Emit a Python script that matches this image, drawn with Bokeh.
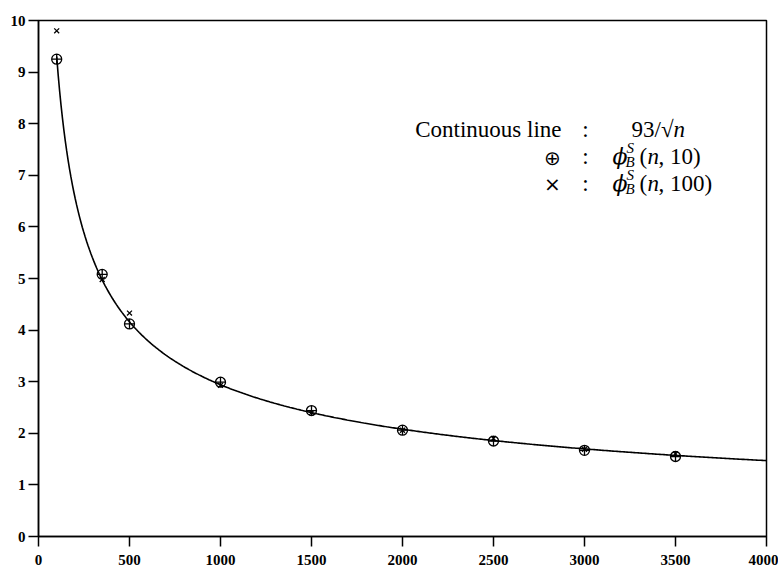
import numpy as np
from bokeh.plotting import figure
from bokeh.models import Label, Range1d
from bokeh.embed import file_html
from bokeh.resources import INLINE

# ---- data ----
n_values = [100, 350, 500, 1000, 1500, 2000, 2500, 3000, 3500]
phi_n10 = [9.25, 5.08, 4.12, 2.99, 2.44, 2.06, 1.85, 1.67, 1.55]
phi_n100 = [9.80, 4.98, 4.33, 2.93, 2.40, 2.06, 1.90, 1.69, 1.60]
curve_coef = 93.0                     # continuous line: 93/sqrt(n)
curve_n = np.linspace(100, 4000, 500)
curve_y = curve_coef / np.sqrt(curve_n)

x_ticks = [0, 500, 1000, 1500, 2000, 2500, 3000, 3500, 4000]
y_ticks = [0, 1, 2, 3, 4, 5, 6, 7, 8, 9, 10]

SERIF = "Liberation Serif"

p = figure(width=778, height=570, output_backend="svg", toolbar_location=None,
           x_range=Range1d(0, 4000), y_range=Range1d(0, 10),
           min_border_left=38, min_border_right=12, min_border_top=20,
           min_border_bottom=34)
p.grid.visible = False
p.background_fill_color = "white"
p.border_fill_color = "white"
p.outline_line_color = "black"
p.outline_line_width = 1.5

for ax in (p.xaxis[0], p.yaxis[0]):
    ax.axis_line_width = 1.5
    ax.major_tick_line_width = 1.5
    ax.minor_tick_line_width = 1.5
    ax.major_tick_in = 0
    ax.major_tick_out = 10
    ax.minor_tick_in = 0
    ax.minor_tick_out = 5
    ax.major_label_text_font = SERIF
    ax.major_label_text_font_style = "bold"
    ax.major_label_text_font_size = "15px"
    ax.major_label_text_color = "black"

p.xaxis[0].ticker = x_ticks
p.xaxis[0].ticker.num_minor_ticks = 2
p.yaxis[0].ticker = y_ticks
p.yaxis[0].ticker.num_minor_ticks = 2
p.xaxis.major_label_standoff = 8
p.yaxis.major_label_standoff = 3

p.line(curve_n, curve_y, line_color="black", line_width=1.6)
p.scatter(n_values, phi_n10, marker="circle_cross", size=10,
          fill_color=None, line_color="black", line_width=1.3)
p.scatter(n_values, phi_n100, marker="x", size=7,
          line_color="black", line_width=1.3)

# ---- legend block (pixel positions converted to data units) ----
X0, X1, Y0, PPU = 38.0, 766.0, 536.0, 51.6


def dx(px):
    return (px - X0) / (X1 - X0) * 4000.0


def dy(py):
    return (Y0 - py) / PPU


def lab(text, px, py, size=23, align="left", style="normal", font=SERIF):
    p.add_layout(Label(x=dx(px), y=dy(py), text=text, text_font=font,
                       text_font_size=f"{size}px", text_font_style=style,
                       text_align=align, text_baseline="alphabetic",
                       text_color="black"))


rows = [129, 156, 183]
# left column
lab("Continuous line", 561, rows[0], align="right")
lab("\u2295", 552, rows[1] + 1, size=20, align="center", font="DejaVu Sans")
lab("\u00d7", 552, rows[2], size=20, align="center", font="DejaVu Sans")
# colons
for r in rows:
    lab(":", 585, r, align="center")

# right column row 1: 93/sqrt(n)
lab("93/\u221a", 631, rows[0])
lab("n", 673, rows[0], style="italic")

# rows 2 and 3: phi_B^S(n, 10) / phi_B^S(n, 100)
for r, tail in ((rows[1], ", 10)"), (rows[2], ", 100)")):
    lab("\u03d5", 612, r, style="italic", font="DejaVu Serif", size=22)
    lab("S", 626, r - 9, size=15, style="italic")
    lab("B", 625, r + 5, size=15, style="italic")
    lab("(", 639, r)
    lab("n", 647, r, style="italic")
    lab(tail, 658, r)

open("out.html", "w").write(file_html(p, INLINE))
